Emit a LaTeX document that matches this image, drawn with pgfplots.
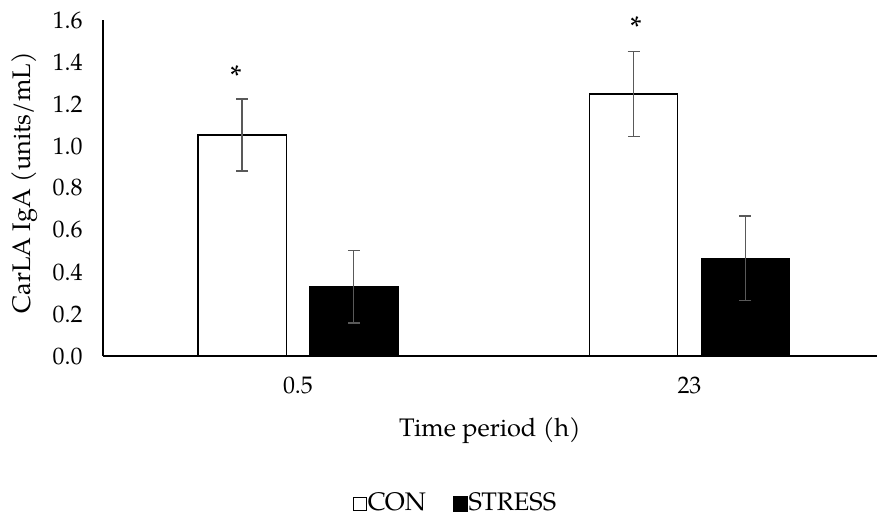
\documentclass[border=0pt]{standalone}
\usepackage{fontspec}
\setmainfont{TeX Gyre Pagella}
\usepackage{pgfplots}
\pgfplotsset{compat=1.18}
\definecolor{errgray}{HTML}{595959}
\begin{document}
\begin{tikzpicture}
\useasboundingbox (-103bp,-161bp) rectangle (774bp,356bp);
\begin{axis}[
  at={(0,0)}, anchor=south west,
  scale only axis, width=774bp, height=336bp,
  xmin=-0.498, xmax=1.479, ymin=0, ymax=1.6,
  ybar=23.5bp, bar width=0.225,
  axis x line*=bottom, axis y line*=left,
  x axis line style={-, line width=2bp},
  y axis line style={-, line width=1.4bp},
  major tick length=0pt,
  xtick={0,1}, xticklabels={0.5,23},
  ytick={0,0.2,0.4,0.6,0.8,1.0,1.2,1.4,1.6},
  /pgf/number format/assume math mode=true,
  yticklabel style={/pgf/number format/fixed, /pgf/number format/fixed zerofill, /pgf/number format/precision=1, xshift=-17bp},
  xticklabel style={yshift=-18bp},
  tick label style={font=\fontsize{24}{27}\selectfont},
  xlabel={Time period (h)}, ylabel={CarLA IgA (units/mL)},
  label style={font=\fontsize{25.5}{28}\selectfont},
  xlabel style={at={(axis description cs:0.5,-0.2232)}, anchor=center},
  ylabel style={at={(axis description cs:-0.1008,0.515)}, anchor=center},
  clip=false,
  legend columns=2,
  legend style={at={(0.4548,-0.436)}, anchor=center, draw=none, fill=none,
    font=\fontsize{25.5}{28}\selectfont, inner sep=0pt,
    nodes={inner sep=1bp},
    /tikz/every even column/.append style={column sep=26bp}},
]
\addplot[draw=black, line width=1.4bp, fill=white,
  legend image code/.code={\draw[black, fill=white, line width=0.8bp] (0.4bp,-8bp) rectangle (13.6bp,5.5bp);},
  error bars/.cd, y dir=both, y explicit,
  error bar style={errgray, line width=1.4bp},
  error mark options={errgray, rotate=90, mark size=6bp, line width=1.4bp}]
  coordinates {(0,1.052) +- (0,0.172) (1,1.248) +- (0,0.202)};
\addlegendentry{CON}
\addplot[draw=black, line width=0.5bp, fill=black,
  legend image code/.code={\fill[black] (0bp,-8.4bp) rectangle (14bp,5.9bp);},
  error bars/.cd, y dir=both, y explicit,
  error bar style={errgray, line width=1.4bp},
  error mark options={errgray, rotate=90, mark size=6bp, line width=1.4bp}]
  coordinates {(0,0.33) +- (0,0.173) (1,0.465) +- (0,0.201)};
\addlegendentry{STRESS}
\node[font=\fontsize{30}{32}\selectfont] at (axis cs:-0.158,1.335) {*};
\node[font=\fontsize{30}{32}\selectfont] at (axis cs:0.863,1.565) {*};
\end{axis}
\end{tikzpicture}
\end{document}
